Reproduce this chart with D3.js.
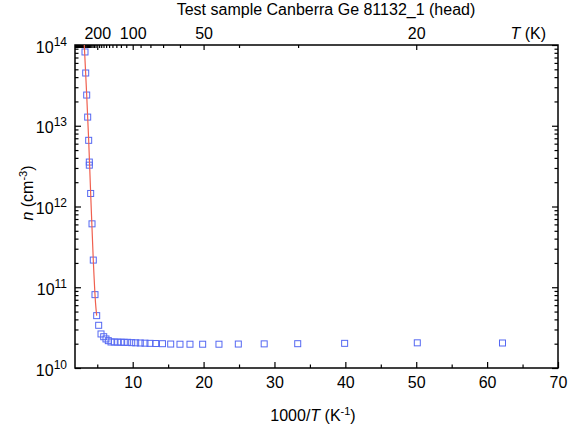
<!DOCTYPE html>
<html>
<head>
<meta charset="utf-8">
<script src="https://cdn.jsdelivr.net/npm/d3@7.9.0/dist/d3.min.js"></script>
<style>
  body { margin: 0; background: #fff; }
  svg { font-family: 'Liberation Sans', Arial, sans-serif; }
</style>
</head>
<body>
<svg id="chart" width="568" height="435"></svg>
<script>
// measured points: 1000/T (K^-1) and carrier density n (cm^-3)
const invT = [3.27, 3.37, 3.51, 3.65, 3.79, 3.88, 3.88, 4.07, 4.26, 4.44, 4.68, 4.92,
  5.20, 5.53, 5.91, 6.23, 6.56, 6.94, 7.40, 7.88, 8.35, 8.81, 9.29, 9.86, 10.42,
  11.07, 11.73, 12.44, 13.24, 14.2, 15.36, 16.67, 18.08, 19.87, 22.17, 24.9,
  28.55, 33.28, 39.9, 50.15, 62.17];
const density = [8.2e13, 4.5e13, 2.4e13, 1.28e13, 6.6e12, 3.55e12, 3.25e12, 1.45e12,
  6.1e11, 2.17e11, 8.1e10, 4.45e10, 3.38e10, 2.64e10, 2.44e10, 2.29e10, 2.18e10,
  2.1e10, 2.1e10, 2.09e10, 2.09e10, 2.08e10, 2.08e10, 2.06e10, 2.05e10, 2.04e10,
  2.03e10, 2.02e10, 2.01e10, 2.0e10, 1.98e10, 1.97e10, 1.97e10, 1.97e10, 1.97e10,
  1.98e10, 1.99e10, 2.0e10, 2.02e10, 2.05e10, 2.04e10];

// fitted curve through the intrinsic region
const fitInvT = [3.17, 3.51, 3.79, 4.07, 4.44, 4.75, 4.92];
const fitDensity = [1e14, 2.4e13, 6.6e12, 1.45e12, 2.17e11, 6.5e10, 4.45e10];

const bottomMajor = [10, 20, 30, 40, 50, 60, 70];
const bottomMinor = [5, 15, 25, 35, 45, 55, 65];
const leftMajor = [1e10, 1e11, 1e12, 1e13, 1e14];
const topMajorT = [200, 100, 50, 20];
const topMinorT = [30, 40, 60, 70, 80, 90, 110, 120, 130, 140, 150, 160, 170, 180, 190,
  210, 220, 230, 240, 250, 260, 270, 280, 290, 300, 310, 320, 330, 340, 350, 360, 370,
  380, 390, 400, 410, 420, 430, 440, 450, 460, 470, 480, 490, 500, 510, 520, 530];

const margin = { left: 75, right: 558, top: 45, bottom: 368 };
const svg = d3.select('#chart');

const x = d3.scaleLinear().domain([1.86, 70]).range([margin.left, margin.right]);
const y = d3.scaleLog().domain([1e10, 1e14]).range([margin.bottom, margin.top]);

const leftMinor = [];
leftMajor.slice(0, -1).forEach((p) => {
  for (let k = 2; k <= 9; k += 1) leftMinor.push(p * k);
});

function styleAxis(g) {
  g.select('.domain').remove();
  g.selectAll('line').attr('stroke', '#000').attr('stroke-width', 1.2);
  g.selectAll('text').attr('font-size', 16).attr('fill', '#000')
    .attr('font-family', "'Liberation Sans', Arial, sans-serif");
}

// bottom axis, ticks pointing inward
svg.append('g')
  .attr('transform', `translate(0,${margin.bottom})`)
  .call(d3.axisBottom(x).tickValues(bottomMajor).tickSize(-6).tickPadding(9))
  .call(styleAxis);
svg.append('g')
  .attr('transform', `translate(0,${margin.bottom})`)
  .call(d3.axisBottom(x).tickValues(bottomMinor).tickSize(-3.5).tickFormat(''))
  .call(styleAxis);

// top axis in temperature
svg.append('g')
  .attr('transform', `translate(0,${margin.top})`)
  .call(d3.axisTop(x).tickValues(topMajorT.map((t) => 1000 / t)).tickSize(-5).tickPadding(6)
    .tickFormat((d) => d3.format('d')(Math.round(1000 / d))))
  .call(styleAxis);
svg.append('g')
  .attr('transform', `translate(0,${margin.top})`)
  .call(d3.axisTop(x).tickValues(topMinorT.map((t) => 1000 / t)).tickSize(-3).tickFormat(''))
  .call(styleAxis);

// left axis with power-of-ten labels
const leftAxis = svg.append('g')
  .attr('transform', `translate(${margin.left},0)`)
  .call(d3.axisLeft(y).tickValues(leftMajor).tickSize(-6).tickPadding(8).tickFormat(''))
  .call(styleAxis);
leftAxis.selectAll('.tick text')
  .attr('dy', '0.45em')
  .each(function (d) {
    const t = d3.select(this);
    t.append('tspan').text('10');
    t.append('tspan').attr('font-size', 12).attr('dy', -7).text(Math.round(Math.log10(d)));
  });
svg.append('g')
  .attr('transform', `translate(${margin.left},0)`)
  .call(d3.axisLeft(y).tickValues(leftMinor).tickSize(-3.5).tickFormat(''))
  .call(styleAxis);

// right axis, no labels
svg.append('g')
  .attr('transform', `translate(${margin.right},0)`)
  .call(d3.axisRight(y).tickValues(leftMajor).tickSize(-6).tickFormat(''))
  .call(styleAxis);
svg.append('g')
  .attr('transform', `translate(${margin.right},0)`)
  .call(d3.axisRight(y).tickValues(leftMinor).tickSize(-3.5).tickFormat(''))
  .call(styleAxis);

// frame
svg.append('rect')
  .attr('x', margin.left)
  .attr('y', margin.top)
  .attr('width', margin.right - margin.left)
  .attr('height', margin.bottom - margin.top)
  .attr('fill', 'none')
  .attr('stroke', '#000')
  .attr('stroke-width', 1.5);

// data
const points = invT.map((v, i) => ({ x: v, n: density[i] }));
const fit = fitInvT.map((v, i) => ({ x: v, n: fitDensity[i] }));

svg.append('g')
  .selectAll('rect')
  .data(points)
  .join('rect')
  .attr('x', (d) => x(d.x) - 3)
  .attr('y', (d) => y(d.n) - 3)
  .attr('width', 6)
  .attr('height', 6)
  .attr('fill', 'none')
  .attr('stroke', '#5568f2')
  .attr('stroke-width', 1);

svg.append('path')
  .datum(fit)
  .attr('fill', 'none')
  .attr('stroke', '#f0604f')
  .attr('stroke-width', 1.2)
  .attr('d', d3.line().x((d) => x(d.x)).y((d) => y(d.n)).curve(d3.curveMonotoneX));

// titles
svg.append('text')
  .attr('x', 326)
  .attr('y', 15)
  .attr('text-anchor', 'middle')
  .attr('font-size', 16)
  .text('Test sample Canberra Ge 81132_1 (head)');

const topTitle = svg.append('text')
  .attr('x', 546)
  .attr('y', 39)
  .attr('text-anchor', 'end')
  .attr('font-size', 16);
topTitle.append('tspan').attr('font-style', 'italic').text('T');
topTitle.append('tspan').text(' (K)');

const xTitle = svg.append('text')
  .attr('x', 313)
  .attr('y', 421)
  .attr('text-anchor', 'middle')
  .attr('font-size', 16);
xTitle.append('tspan').text('1000/');
xTitle.append('tspan').attr('font-style', 'italic').text('T');
xTitle.append('tspan').text(' (K');
xTitle.append('tspan').attr('font-size', 11).attr('dy', -6).text('-1');
xTitle.append('tspan').attr('dy', 6).text(')');

const yTitle = svg.append('text')
  .attr('transform', 'translate(33,193) rotate(-90)')
  .attr('text-anchor', 'middle')
  .attr('font-size', 16);
yTitle.append('tspan').attr('font-style', 'italic').text('n');
yTitle.append('tspan').text(' (cm');
yTitle.append('tspan').attr('font-size', 11).attr('dy', -6).text('-3');
yTitle.append('tspan').attr('dy', 6).text(')');
</script>
</body>
</html>
